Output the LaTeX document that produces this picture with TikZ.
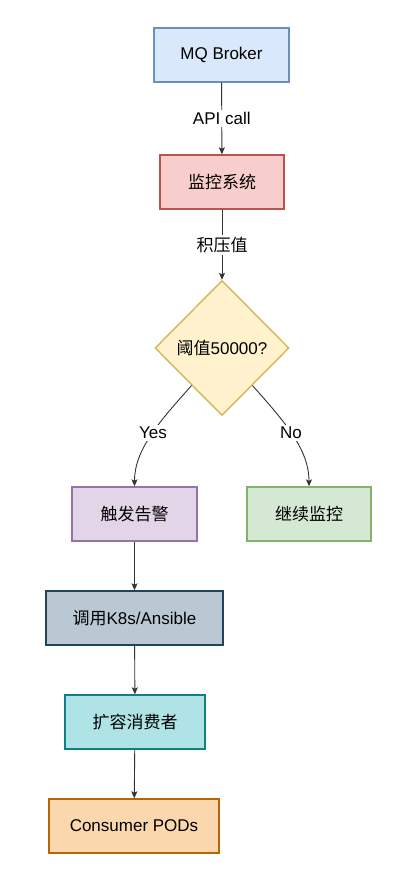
\documentclass[tikz,border=0pt]{standalone}
\usepackage{fontspec}
\setmainfont{Liberation Sans}
\newfontfamily\cjk{Noto Sans CJK SC}
\usetikzlibrary{shapes.geometric,arrows.meta,calc}
\definecolor{bluef}{HTML}{DAE8FC}\definecolor{blued}{HTML}{6C8EBF}
\definecolor{redf}{HTML}{F8CECC}\definecolor{redd}{HTML}{B85450}
\definecolor{yelf}{HTML}{FFF2CC}\definecolor{yeld}{HTML}{D6B656}
\definecolor{purf}{HTML}{E1D5E7}\definecolor{purd}{HTML}{9673A6}
\definecolor{grnf}{HTML}{D5E8D4}\definecolor{grnd}{HTML}{82B366}
\definecolor{slaf}{HTML}{BAC8D3}\definecolor{slad}{HTML}{23445D}
\definecolor{tealf}{HTML}{B0E3E6}\definecolor{teald}{HTML}{0E8088}
\definecolor{orf}{HTML}{FAD7AC}\definecolor{ord}{HTML}{B46504}
\tikzset{
  box/.style={draw, rectangle, line width=1.4pt, minimum height=54pt, inner sep=0pt,
    font=\fontsize{17}{20}\selectfont},
  conn/.style={draw=black!80, line width=0.9pt, -{Stealth[length=7pt,width=6pt,inset=1.5pt]}},
  lbl/.style={fill=white, inner sep=2pt, font=\fontsize{17}{20}\selectfont, text=black}
}
\begin{document}
\begin{tikzpicture}[x=1pt,y=-1pt]
\useasboundingbox[fill=white] (0,0) rectangle (412,884);
\node[box, fill=bluef, draw=blued, minimum width=135pt] (mq) at (221.5,55) {MQ Broker};
\node[box, fill=redf, draw=redd, minimum width=124pt] (mon) at (222,182) {\cjk 监控系统};
\node[draw=yeld, fill=yelf, line width=1.4pt, shape=diamond, inner sep=0pt,
  minimum width=134pt, minimum height=135pt, font=\fontsize{17}{20}\selectfont] (dec) at (222,348) {{\cjk 阈值}50000?};
\node[box, fill=purf, draw=purd, minimum width=125pt] (alarm) at (134.5,514) {\cjk 触发告警};
\node[box, fill=grnf, draw=grnd, minimum width=124pt] (keep) at (309,514) {\cjk 继续监控};
\node[box, fill=slaf, draw=slad, minimum width=177pt] (k8s) at (134.5,618) {{\cjk 调用}K8s/Ansible};
\node[box, fill=tealf, draw=teald, minimum width=140pt] (scale) at (135,722) {\cjk 扩容消费者};
\node[box, fill=orf, draw=ord, minimum width=170pt] (pods) at (134,826) {Consumer PODs};
\coordinate (ys) at ($(dec.west)!0.55!(dec.south)$);
\coordinate (ns) at ($(dec.east)!0.55!(dec.south)$);
\draw[conn] (mq) -- node[lbl] {API call} (mon);
\draw[conn] (mon) -- node[lbl] {\cjk 积压值} (dec);
\draw[conn] (ys) .. controls +(-32,36) and +(0,-37) .. node[lbl, pos=0.47] {Yes} (alarm.north);
\draw[conn] (ns) .. controls +(32,36) and +(0,-37) .. node[lbl, pos=0.47] {No} (keep.north);
\draw[conn] (alarm) -- (k8s);
\draw[conn] (k8s) -- (scale);
\draw[conn] (scale) -- (pods);
\end{tikzpicture}
\end{document}
